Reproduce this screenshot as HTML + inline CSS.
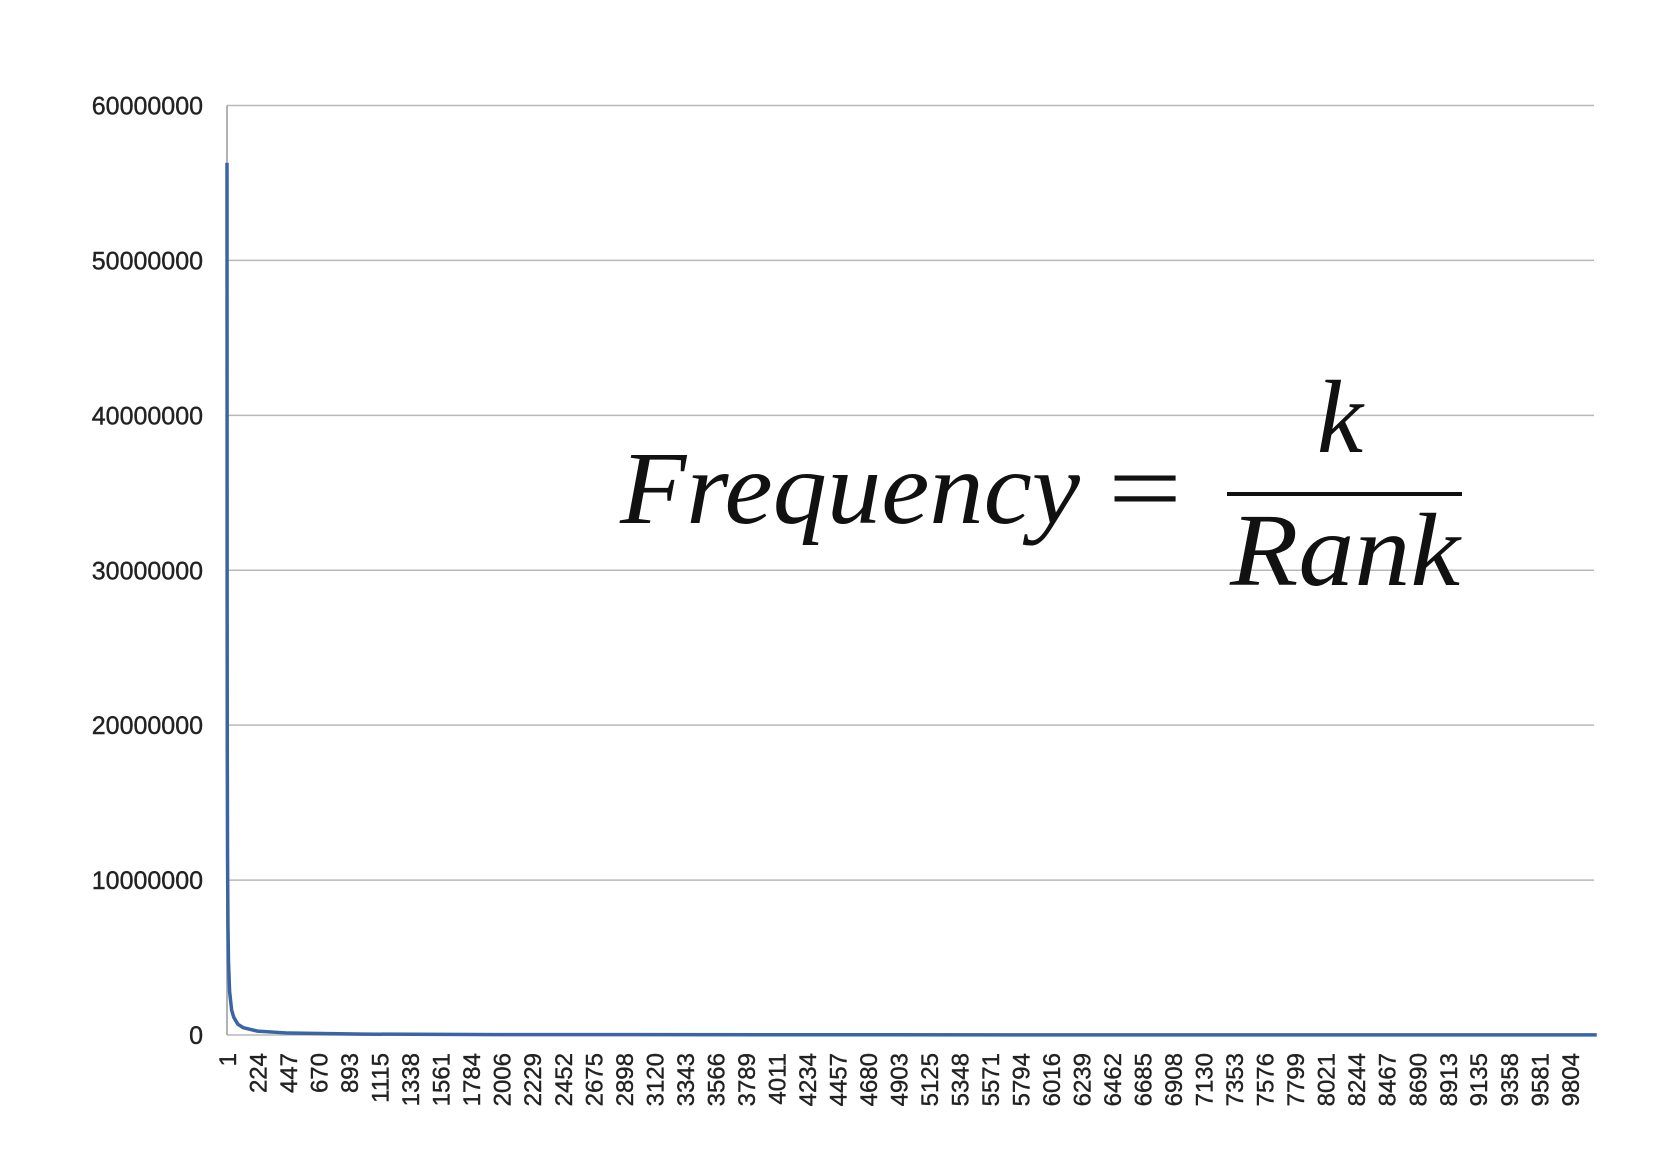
<!DOCTYPE html>
<html><head><meta charset="utf-8"><style>
html,body{margin:0;padding:0;background:#fff;}
svg{display:block;}
</style></head><body>
<svg id="chart" width="1665" height="1155" viewBox="0 0 1665 1155" xmlns="http://www.w3.org/2000/svg">
<g id="grid"></g>
<g id="yaxis"></g>
<g id="xaxis"></g>
<g id="series"></g>
<g font-family="Liberation Serif, serif" font-style="italic" fill="#111">
  <text x="620" y="523" font-size="104" textLength="460" lengthAdjust="spacingAndGlyphs">Frequency</text>
  <text x="1108" y="523" font-size="104" font-style="normal" textLength="74" lengthAdjust="spacingAndGlyphs">=</text>
  <text x="1340" y="452" font-size="104" text-anchor="middle">k</text>
  <line x1="1227" y1="494" x2="1462" y2="494" stroke="#111" stroke-width="4"/>
  <text x="1230" y="585" font-size="104" textLength="230" lengthAdjust="spacingAndGlyphs">Rank</text>
</g>
</svg>
<script>
const yTicks = [0, 10000000, 20000000, 30000000, 40000000, 50000000, 60000000];
const xTickLabels = [1,224,447,670,893,1115,1338,1561,1784,2006,2229,2452,2675,2898,3120,3343,3566,3789,4011,4234,4457,4680,4903,5125,5348,5571,5794,6016,6239,6462,6685,6908,7130,7353,7576,7799,8021,8244,8467,8690,8913,9135,9358,9581,9804];
const ranks = [1, 2, 3, 5, 8, 12, 20, 35, 50, 80, 120, 224, 447, 1000, 2000, 4000, 7000, 10000];
const freqs = [56300000, 28000000, 18500000, 11500000, 7000000, 4700000, 2800000, 1600000, 1150000, 700000, 470000, 250000, 125000, 56000, 28000, 14000, 8000, 5600];

const NS = 'http://www.w3.org/2000/svg';
const L = 227, R = 1594, T = 105.5, B = 1035;
const xMin = 1, xMax = 9980, yMax = 60000000;
function xs(v){ return L + (v - xMin) / (xMax - xMin) * (R - L); }
function ys(v){ return B - v / yMax * (B - T); }
function mk(tag, attrs, parent){ const e = document.createElementNS(NS, tag); for (const k in attrs) e.setAttribute(k, attrs[k]); parent.appendChild(e); return e; }

const grid = document.getElementById('grid');
const yaxis = document.getElementById('yaxis');
const xaxis = document.getElementById('xaxis');
const series = document.getElementById('series');

yTicks.forEach(v => {
  const y = ys(v);
  const ln = mk('line', {x1: L, y1: y, x2: R, y2: y, stroke: '#b8b8b8', 'stroke-width': 1.5}, grid);
  
  
  const t = mk('text', {x: 203, y: y + 9, 'text-anchor': 'end', 'font-family': 'Liberation Sans, sans-serif', 'font-size': 25, fill: '#222', stroke: '#222', 'stroke-width': 0.4}, yaxis);
  t.textContent = String(v);
  
  
});
const ax = mk('line', {x1: L, y1: T, x2: L, y2: B, stroke: '#999', 'stroke-width': 1.5}, yaxis);



xTickLabels.forEach(v => {
  const x = xs(v);
  const t = mk('text', {x: 0, y: 0, transform: 'translate(' + (x + 9) + ',1053) rotate(-90)', 'text-anchor': 'end', 'font-family': 'Liberation Sans, sans-serif', 'font-size': 24, fill: '#222', stroke: '#222', 'stroke-width': 0.4}, xaxis);
  t.textContent = String(v);
  
  
});

let d = '';
ranks.forEach((r, i) => { d += (i ? 'L' : 'M') + xs(r).toFixed(2) + ',' + ys(freqs[i]).toFixed(2); });
const p = mk('path', {d: d, fill: 'none', stroke: '#3a65a5', 'stroke-width': 3.5, 'stroke-linejoin': 'round'}, series);


</script>
</body></html>
